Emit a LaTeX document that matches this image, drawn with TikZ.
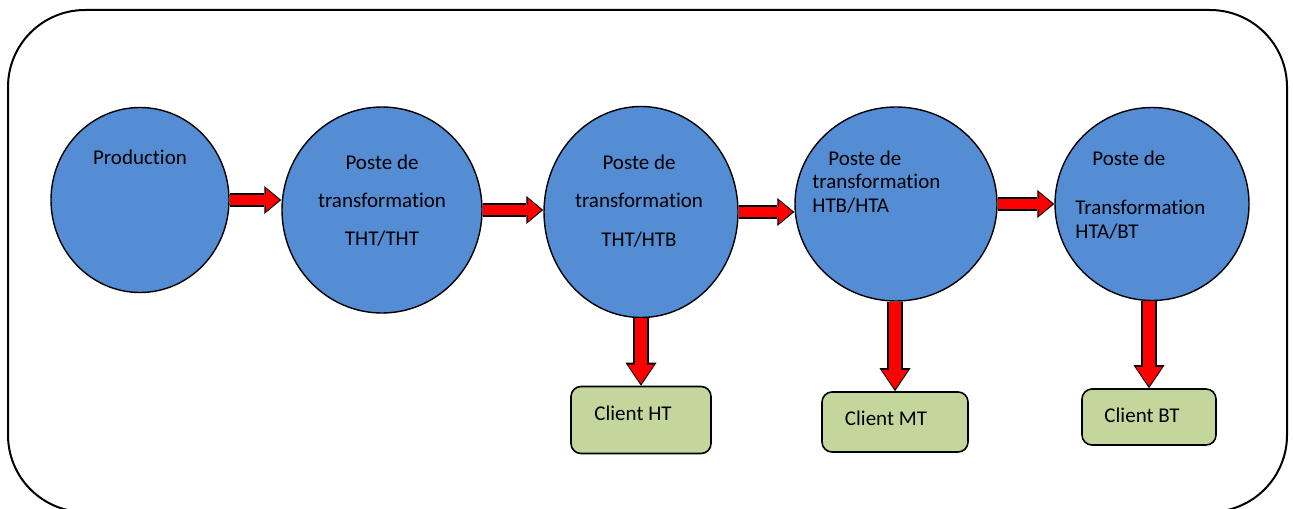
\documentclass[tikz,border=0pt]{standalone}
\usepackage{fontspec}
\setmainfont{Carlito}[Ligatures=NoCommon]
\usetikzlibrary{arrows.meta,shapes.geometric}
\definecolor{posteblue}{RGB}{84,141,212}
\definecolor{clientgreen}{RGB}{195,214,155}

\begin{document}
\begin{tikzpicture}[x=0.5pt,y=-0.5pt,
  every node/.style={font=\fontsize{10.5}{12}\selectfont},
  poste/.style={ellipse, draw, line width=0.7pt, fill=posteblue, inner sep=0pt},
  client/.style={rectangle, rounded corners=5pt, draw, line width=0.8pt, fill=clientgreen, inner sep=0pt},
  harrow/.style={red, line width=5.3pt, shorten >=1pt, -{Triangle[length=6.8pt,width=11.8pt,line width=0pt]},
    preaction={draw=black, line width=6.6pt, shorten >=0pt, -{Triangle[length=8.5pt,width=14pt,line width=0pt]}}},
  varrow/.style={red, line width=6.3pt, shorten >=1pt, -{Triangle[length=9.6pt,width=13.2pt,line width=0pt]},
    preaction={draw=black, line width=7.6pt, shorten >=0pt, -{Triangle[length=11.5pt,width=15.5pt,line width=0pt]}}}]
\useasboundingbox (0,0) rectangle (1293,508);
\clip (0,0) rectangle (1293,508);
\draw [line width=1pt, rounded corners=38.5pt] (8,10) rectangle (1287,512);

% postes
\node [poste, minimum width=89pt, minimum height=92.5pt] (prod) at (140,200) {};
\node [poste, minimum width=100pt, minimum height=103pt] (tht) at (382,210) {};
\node [poste, minimum width=97pt, minimum height=105.5pt] (htb) at (641,212) {};
\node [poste, minimum width=101pt, minimum height=97pt] (hta) at (896,204) {};
\node [poste, minimum width=97pt, minimum height=96.5pt] (bt) at (1152,204) {};

\node (prodtxt) at (140,157) {Production};
\node (tht1) at (382,162) {Poste de};
\node (tht2) at (382,200) {transformation};
\node (tht3) at (382,239) {THT/THT};
\node (htb1) at (639,162) {Poste de};
\node (htb2) at (639,200) {transformation};
\node (htb3) at (639,240) {THT/HTB};
\node [anchor=west, inner sep=0pt] (hta1) at (828,158) {Poste de};
\node [anchor=west, inner sep=0pt] (hta2) at (812,181) {transformation};
\node [anchor=west, inner sep=0pt] (hta3) at (812,206) {HTB/HTA};
\node [anchor=west, inner sep=0pt] (bt1) at (1092,158) {Poste de};
\node [anchor=west, inner sep=0pt] (bt2) at (1075,207) {Transformation};
\node [anchor=west, inner sep=0pt] (bt3) at (1075,232) {HTA/BT};

% clients
\node [client, minimum width=70pt, minimum height=33.5pt] (clht) at (641,420) {};
\node [client, minimum width=73pt, minimum height=30pt] (clmt) at (895,422) {};
\node [client, minimum width=67pt, minimum height=28pt] (clbt) at (1149,417) {};
\node (clhttxt) at (633,413) {Client HT};
\node (clmttxt) at (886,418) {Client MT};
\node (clbttxt) at (1142,415) {Client BT};

% fleches
\draw [harrow] (prod.east) -- (prod.east -| tht.west);
\draw [harrow] (tht.east) -- (tht.east -| htb.west);
\draw [harrow] (htb.east) -- (htb.east -| hta.west);
\draw [harrow] (hta.east) -- (hta.east -| bt.west);
\draw [varrow] (htb.south) -- (clht.north);
\draw [varrow] (clmt.north |- hta.south) -- (clmt.north);
\draw [varrow] (clbt.north |- bt.south) -- (clbt.north);
\end{tikzpicture}
\end{document}
